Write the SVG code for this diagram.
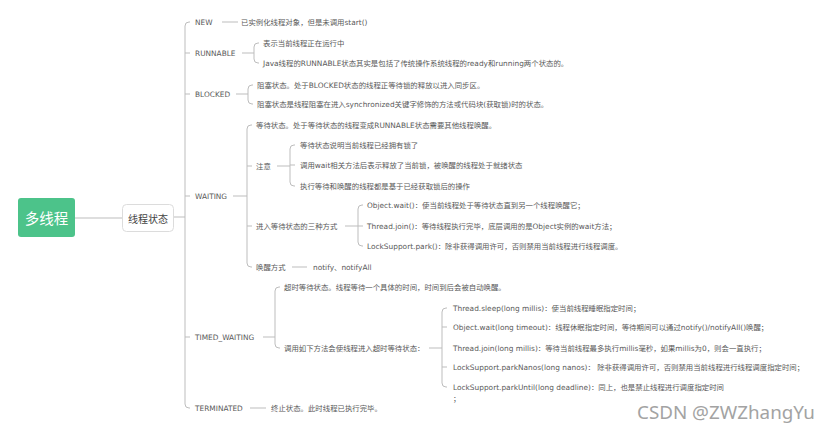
<svg xmlns="http://www.w3.org/2000/svg" width="831" height="436" viewBox="0 0 831 436">
<style>
.t{font-family:"DejaVu Sans","Noto Sans CJK SC",sans-serif;font-size:7.4px;fill:#595959;dominant-baseline:central}
.c{fill:none;stroke:#bdbdbd;stroke-width:1}
</style>
<rect width="831" height="436" fill="#ffffff"/>
<g id="connectors" class="c">
<path d="M75,218 H122"/>
<path d="M174,217 H185"/>
<path d="M190,22 H189 Q185,22 185,26 V404 Q185,408 189,408 H190 M185,53 H190 M185,94 H190 M185,196 H190 M185,337 H190"/>
<path d="M222,22 H238"/>
<path d="M242,53 H254 M259,43 H258 Q254,43 254,47 V59 Q254,63 258,63 H259"/>
<path d="M236,94 H248 M253,85 H252 Q248,85 248,89 V100 Q248,104 252,104 H253"/>
<path d="M233,196 H247 M252,125 H251 Q247,125 247,129 V263 Q247,267 251,267 H252 M247,166 H252 M247,226 H252"/>
<path d="M277,166 H290 M295,145 H294 Q290,145 290,149 V182 Q290,186 294,186 H295 M290,165 H295"/>
<path d="M345,226 H358 M363,205 H362 Q358,205 358,209 V242 Q358,246 362,246 H363 M358,226 H363"/>
<path d="M292,267 H307"/>
<path d="M263,337 H275 M280,287 H279 Q275,287 275,291 V344 Q275,348 279,348 H280"/>
<path d="M429,348 H442 M447,308 H446 Q442,308 442,312 V383 Q442,387 446,387 H447 M442,327 H447 M442,367 H447"/>
<path d="M250,408 H266"/>
</g>
<g id="root">
<rect x="18" y="198" width="57" height="39" rx="3" fill="#4cc38a"/>
<text x="46.5" y="217.5" text-anchor="middle" dominant-baseline="central" font-family="Noto Sans CJK SC,sans-serif" font-size="14.5" fill="#ffffff">多线程</text>
</g>
<g id="thread-state">
<rect x="122.5" y="204.5" width="51" height="27" rx="4" fill="#ffffff" stroke="#dcdcdc"/>
<text x="148" y="218" text-anchor="middle" dominant-baseline="central" font-family="Noto Sans CJK SC,sans-serif" font-size="10" fill="#444444">线程状态</text>
</g>
<g id="new">
<text class="t" x="195" y="22">NEW</text>
<text class="t" x="241" y="22">已实例化线程对象，但是未调用start()</text>
</g>
<g id="runnable">
<text class="t" x="195" y="53">RUNNABLE</text>
<text class="t" x="263" y="43">表示当前线程正在运行中</text>
<text class="t" x="263" y="63">Java线程的RUNNABLE状态其实是包括了传统操作系统线程的ready和running两个状态的。</text>
</g>
<g id="blocked">
<text class="t" x="195" y="94">BLOCKED</text>
<text class="t" x="257" y="85">阻塞状态。处于BLOCKED状态的线程正等待锁的释放以进入同步区。</text>
<text class="t" x="257" y="104">阻塞状态是线程阻塞在进入synchronized关键字修饰的方法或代码块(获取锁)时的状态。</text>
</g>
<g id="waiting">
<text class="t" x="195" y="196">WAITING</text>
<text class="t" x="256" y="125">等待状态。处于等待状态的线程变成RUNNABLE状态需要其他线程唤醒。</text>
</g>
<g id="waiting-note">
<text class="t" x="256" y="166">注意</text>
<text class="t" x="300" y="145">等待状态说明当前线程已经拥有锁了</text>
<text class="t" x="300" y="165">调用wait相关方法后表示释放了当前锁，被唤醒的线程处于就绪状态</text>
<text class="t" x="300" y="186">执行等待和唤醒的线程都是基于已经获取锁后的操作</text>
</g>
<g id="waiting-ways">
<text class="t" x="256" y="226">进入等待状态的三种方式</text>
<text class="t" x="367" y="205">Object.wait()：使当前线程处于等待状态直到另一个线程唤醒它；</text>
<text class="t" x="367" y="226">Thread.join()：等待线程执行完毕，底层调用的是Object实例的wait方法；</text>
<text class="t" x="367" y="246">LockSupport.park()：除非获得调用许可，否则禁用当前线程进行线程调度。</text>
</g>
<g id="waiting-wake">
<text class="t" x="256" y="267">唤醒方式</text>
<text class="t" x="313" y="267">notify、notifyAll</text>
</g>
<g id="timed-waiting">
<text class="t" x="195" y="337">TIMED_WAITING</text>
<text class="t" x="284" y="287">超时等待状态。线程等待一个具体的时间，时间到后会被自动唤醒。</text>
</g>
<g id="timed-methods">
<text class="t" x="284" y="348">调用如下方法会使线程进入超时等待状态：</text>
<text class="t" x="453" y="308">Thread.sleep(long millis)：使当前线程睡眠指定时间；</text>
<text class="t" x="453" y="327">Object.wait(long timeout)：线程休眠指定时间，等待期间可以通过notify()/notifyAll()唤醒；</text>
<text class="t" x="453" y="348">Thread.join(long millis)：等待当前线程最多执行millis毫秒，如果millis为0，则会一直执行；</text>
<text class="t" x="453" y="367">LockSupport.parkNanos(long nanos)： 除非获得调用许可，否则禁用当前线程进行线程调度指定时间；</text>
<text class="t" x="453" y="387">LockSupport.parkUntil(long deadline)：同上，也是禁止线程进行调度指定时间</text>
<text class="t" x="453" y="398">；</text>
</g>
<g id="terminated">
<text class="t" x="195" y="408">TERMINATED</text>
<text class="t" x="271" y="408">终止状态。此时线程已执行完毕。</text>
</g>
<text x="637" y="419" font-family="Noto Sans,sans-serif" font-size="18" fill="#a3a3a3" textLength="178" lengthAdjust="spacingAndGlyphs">CSDN @ZWZhangYu</text>
</svg>
